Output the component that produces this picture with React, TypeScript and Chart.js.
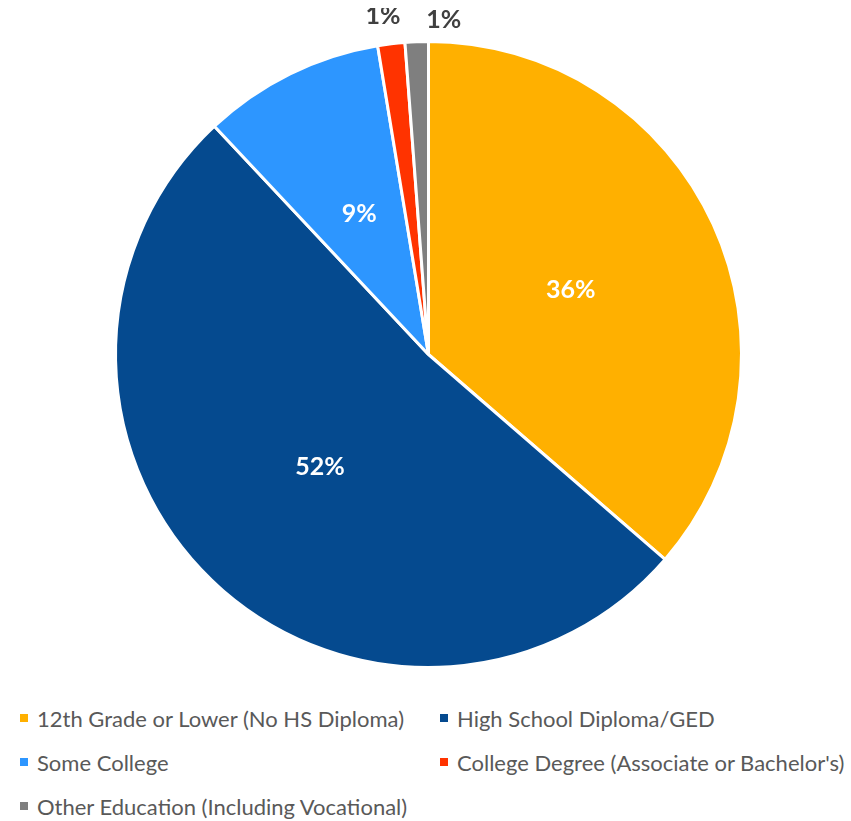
import React, { useEffect, useRef } from "react";
import { Chart, registerables } from "chart.js";

Chart.register(...registerables);

const categories: string[] = [
  "12th Grade or Lower (No HS Diploma)",
  "High School Diploma/GED",
  "Some College",
  "College Degree (Associate or Bachelor's)",
  "Other Education (Including Vocational)",
];
const values: number[] = [36.4, 51.7, 9.4, 1.4, 1.2];
const colors: string[] = ["#FFB000", "#054A8F", "#2D96FF", "#FF3300", "#7F7F7F"];
const labelTexts: string[] = ["36%", "52%", "9%", "1%", "1%"];
const outsideLabel: boolean[] = [false, false, false, true, true];

const FONT = "Lato, 'Noto Sans', sans-serif";

const labelPlugin = {
  id: "sliceLabels",
  afterDatasetsDraw(chart: any) {
    const ctx = chart.ctx;
    const meta = chart.getDatasetMeta(0);
    ctx.save();
    ctx.textAlign = "center";
    ctx.textBaseline = "middle";
    ctx.font = `bold 25px ${FONT}`;
    meta.data.forEach((arc: any, i: number) => {
      const { x, y, startAngle, endAngle, outerRadius } = arc.getProps(
        ["x", "y", "startAngle", "endAngle", "outerRadius"],
        true
      );
      const mid = (startAngle + endAngle) / 2;
      let r: number;
      let dx = 0;
      let dy = 0;
      if (outsideLabel[i]) {
        r = outerRadius + 28;
        ctx.fillStyle = "#404040";
        if (i === 3) {
          dx = -5;
        }
        if (i === 4) {
          dx = 28;
          dy = 6;
        }
      } else {
        r = outerRadius * 0.5;
        ctx.fillStyle = "#FFFFFF";
      }
      const lx = x + Math.cos(mid) * r + dx;
      const ly = y + Math.sin(mid) * r + dy;
      ctx.fillText(labelTexts[i], lx, ly);
    });
    ctx.restore();
  },
};

export default function App() {
  const canvasRef = useRef<HTMLCanvasElement | null>(null);

  useEffect(() => {
    if (!canvasRef.current) return;
    const chart = new Chart(canvasRef.current, {
      type: "pie",
      data: {
        labels: categories,
        datasets: [
          {
            data: values,
            backgroundColor: colors,
            borderColor: "#FFFFFF",
            borderWidth: 3,
          },
        ],
      },
      options: {
        animation: false,
        responsive: false,
        maintainAspectRatio: false,
        layout: { padding: { top: 32, bottom: 29, left: 106, right: 100 } },
        plugins: {
          legend: { display: false },
          tooltip: { enabled: false },
        },
      },
      plugins: [labelPlugin],
    });
    return () => chart.destroy();
  }, []);

  const legendRows: number[][] = [
    [0, 1],
    [2, 3],
    [4],
  ];

  return (
    <div style={{ width: 835, fontFamily: FONT }}>
      <canvas ref={canvasRef} width={835} height={690} style={{ display: "block" }} />
      <div style={{ marginTop: -2 }}>
        {legendRows.map((row, ri) => (
          <div key={ri} style={{ display: "flex", height: 44, alignItems: "center" }}>
            {row.map((idx, ci) => (
              <div
                key={idx}
                style={{
                  display: "flex",
                  alignItems: "center",
                  position: "absolute",
                  left: ci === 0 ? 20 : 440,
                }}
              >
                <span
                  style={{
                    display: "inline-block",
                    width: 8,
                    height: 8,
                    background: colors[idx],
                    marginRight: 9,
                  }}
                />
                <span style={{ fontSize: 22, color: "#595959", whiteSpace: "nowrap" }}>
                  {categories[idx]}
                </span>
              </div>
            ))}
          </div>
        ))}
      </div>
    </div>
  );
}
